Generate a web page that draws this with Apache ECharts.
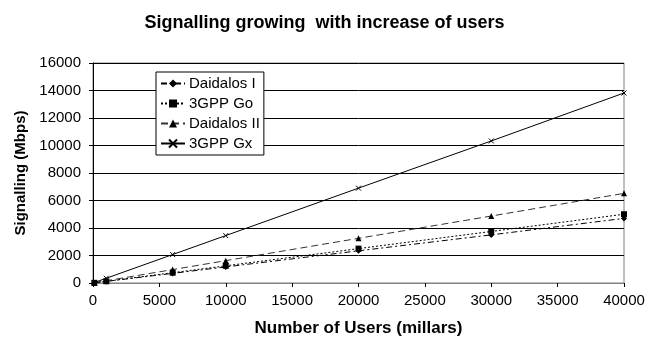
<!DOCTYPE html>
<html>
<head>
<meta charset="utf-8">
<script src="https://cdn.jsdelivr.net/npm/echarts@6/dist/echarts.min.js"></script>
<style>
  html, body { margin: 0; padding: 0; background: #fff; }
  #chart { width: 649px; height: 342px; }
</style>
</head>
<body>
<div id="chart"></div>
<script>
// 用户数 (millars)
var users = [100, 1000, 6000, 10000, 20000, 30000, 40000];
var daidalosI = [12, 117, 700, 1170, 2340, 3500, 4700];
var gppGo = [13, 125, 750, 1250, 2500, 3750, 5000];
var daidalosII = [16, 163, 975, 1625, 3250, 4870, 6520];
var gppGx = [35, 345, 2070, 3450, 6900, 10330, 13820];

function pairs(ys) {
    return users.map(function (u, i) { return [u, ys[i]]; });
}
function plain(v) { return String(v); }

var myChart = echarts.init(document.getElementById('chart'));
var font = 'Liberation Sans, Arial, sans-serif';

option = {
    animation: false,
    title: {
        text: 'Signalling growing  with increase of users',
        left: 'center',
        top: 9,
        textStyle: { fontFamily: font, fontSize: 18, fontWeight: 'bold', color: '#000' }
    },
    legend: {
        orient: 'vertical',
        left: 156,
        top: 72,
        padding: [4, 4, 4, 4],
        itemGap: 5,
        itemWidth: 24,
        itemHeight: 10,
        backgroundColor: '#fff',
        borderColor: '#000',
        borderWidth: 1,
        textStyle: { fontFamily: font, fontSize: 15, color: '#000', padding: [0, 0, 0, -1] },
        data: ['Daidalos I', '3GPP Go', 'Daidalos II', '3GPP Gx']
    },
    grid: {
        left: 93,
        right: 25,
        top: 63,
        bottom: 56,
        show: true,
        borderColor: '#808080',
        borderWidth: 1
    },
    xAxis: {
        type: 'value',
        min: 0,
        max: 40000,
        interval: 5000,
        name: 'Number of Users (millars)',
        nameLocation: 'middle',
        nameGap: 37,
        nameTextStyle: { fontFamily: font, fontSize: 17, fontWeight: 'bold', color: '#000' },
        axisLine: { lineStyle: { color: '#808080' } },
        axisTick: { show: true, length: 4, lineStyle: { color: '#000' } },
        axisLabel: { fontFamily: font, fontSize: 15, color: '#000', margin: 10, formatter: plain },
        splitLine: { show: false }
    },
    yAxis: {
        type: 'value',
        min: 0,
        max: 16000,
        interval: 2000,
        name: 'Signalling (Mbps)',
        nameLocation: 'middle',
        nameGap: 64,
        nameTextStyle: { fontFamily: font, fontSize: 15, fontWeight: 'bold', color: '#000' },
        axisLine: { show: true, lineStyle: { color: '#000' } },
        axisTick: { show: true, length: 4, lineStyle: { color: '#000' } },
        axisLabel: { fontFamily: font, fontSize: 15, color: '#000', margin: 12, formatter: plain },
        splitLine: { show: true, lineStyle: { color: '#000', width: 1 } }
    },
    series: [
        {
            name: 'Daidalos I',
            type: 'line',
            data: pairs(daidalosI),
            symbol: 'diamond',
            symbolSize: 6,
            itemStyle: { color: '#000' },
            lineStyle: { color: '#000', width: 1, type: [6, 3, 2, 3] }
        },
        {
            name: '3GPP Go',
            type: 'line',
            data: pairs(gppGo),
            symbol: 'rect',
            symbolSize: 6,
            itemStyle: { color: '#000' },
            lineStyle: { color: '#000', width: 1, type: [2, 2] }
        },
        {
            name: 'Daidalos II',
            type: 'line',
            data: pairs(daidalosII),
            symbol: 'triangle',
            symbolSize: 6,
            itemStyle: { color: '#000' },
            lineStyle: { color: '#333', width: 1, type: [7, 4] }
        },
        {
            name: '3GPP Gx',
            type: 'line',
            data: pairs(gppGx),
            symbol: 'path://M0,0L10,10M10,0L0,10',
            symbolSize: 5,
            itemStyle: { color: 'none', borderColor: '#000', borderWidth: 1 },
            lineStyle: { color: '#000', width: 1 }
        }
    ]
};
myChart.setOption(option);
</script>
</body>
</html>
